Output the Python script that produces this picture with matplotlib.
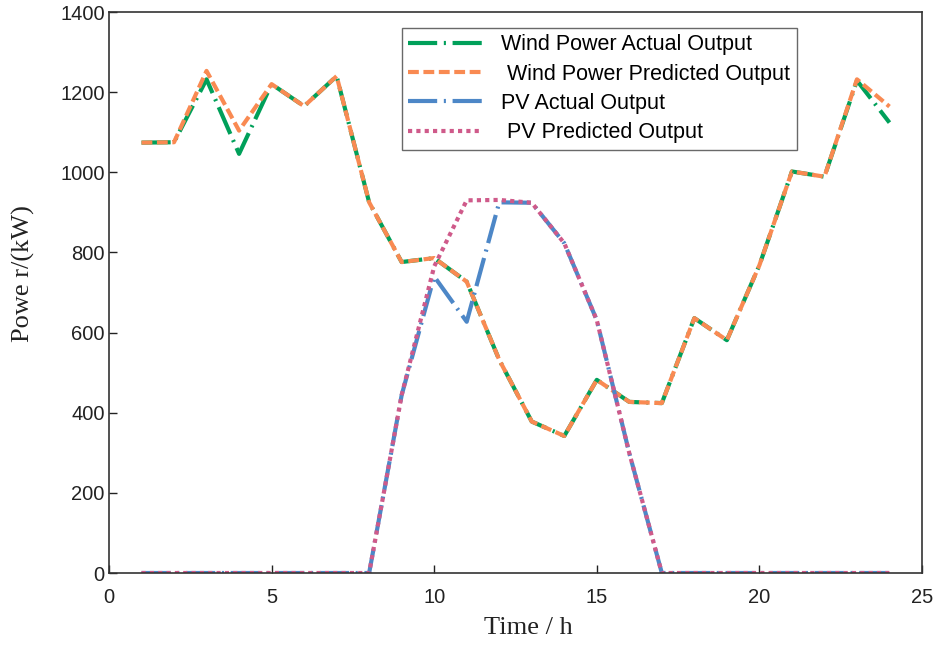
import numpy as np
import matplotlib
matplotlib.use('Agg')
import matplotlib.pyplot as plt

# hourly output, kW
hours = list(range(1, 25))
wind_actual = [1074, 1075, 1232, 1046, 1220, 1165, 1240, 925, 776, 786, 727, 532,
               378, 342, 482, 427, 424, 636, 581, 768, 1002, 989, 1229, 1124]
wind_pred = [1074, 1075, 1253, 1104, 1220, 1165, 1240, 925, 776, 786, 727, 532,
             378, 342, 482, 427, 424, 636, 581, 768, 1002, 989, 1232, 1164]
pv_actual = [0, 0, 0, 0, 0, 0, 0, 0, 444, 740, 627, 925,
             924, 823, 631, 299, 0, 0, 0, 0, 0, 0, 0, 0]
pv_pred = [0, 0, 0, 0, 0, 0, 0, 0, 444, 765, 930, 931,
           924, 823, 631, 299, 0, 0, 0, 0, 0, 0, 0, 0]

x_ticks = [0, 5, 10, 15, 20, 25]
y_ticks = [0, 200, 400, 600, 800, 1000, 1200, 1400]

plt.rcParams['font.family'] = ['Liberation Sans', 'DejaVu Sans']

fig = plt.figure(figsize=(9.51, 6.49), dpi=100)
ax = fig.add_axes([0.1146, 0.1171, 0.8549, 0.8644])

lw = 3.0
dashdot = (0, (7, 1.6, 0.5, 1.6))
ax.plot(hours, wind_actual, color='#00a05a', lw=lw, linestyle=dashdot,
        label='Wind Power Actual Output')
ax.plot(hours, wind_pred, color='#f98a52', lw=lw, linestyle=(0, (2.6, 1.1)),
        label=' Wind Power Predicted Output')
ax.plot(hours, pv_actual, color='#4d87c7', lw=lw, linestyle=dashdot,
        label='PV Actual Output')
ax.plot(hours, pv_pred, color='#cf5a8a', lw=lw, linestyle=(0, (1.0, 1.0)),
        label=' PV Predicted Output')

ax.set_xlim(0, 25)
ax.set_ylim(0, 1400)
ax.set_xticks(x_ticks)
ax.set_yticks(y_ticks)
ax.tick_params(direction='in', length=6, width=1, labelsize=14.5, colors='#222222',
               top=False, right=False)
ax.tick_params(axis='x', pad=11)
ax.tick_params(axis='y', pad=3)
for s in ax.spines.values():
    s.set_color('#333333')
    s.set_linewidth(1.2)

ax.set_xlabel('Time / h', fontsize=19, family='Liberation Serif', color='#222222')
ax.set_ylabel('Powe r/(kW)', fontsize=19, family='Liberation Serif', color='#222222')
ax.xaxis.set_label_coords(0.516, -0.078)
ax.yaxis.set_label_coords(-0.091, 0.533)

leg = ax.legend(loc='upper left', bbox_to_anchor=(0.3604, 0.972), fontsize=15.5,
                frameon=True, fancybox=False, edgecolor='#444444', handlelength=3.4,
                handletextpad=0.92, borderpad=0.3, labelspacing=0.39, borderaxespad=0)
leg.get_frame().set_linewidth(1.0)

fig.savefig('out.png', dpi=100)
